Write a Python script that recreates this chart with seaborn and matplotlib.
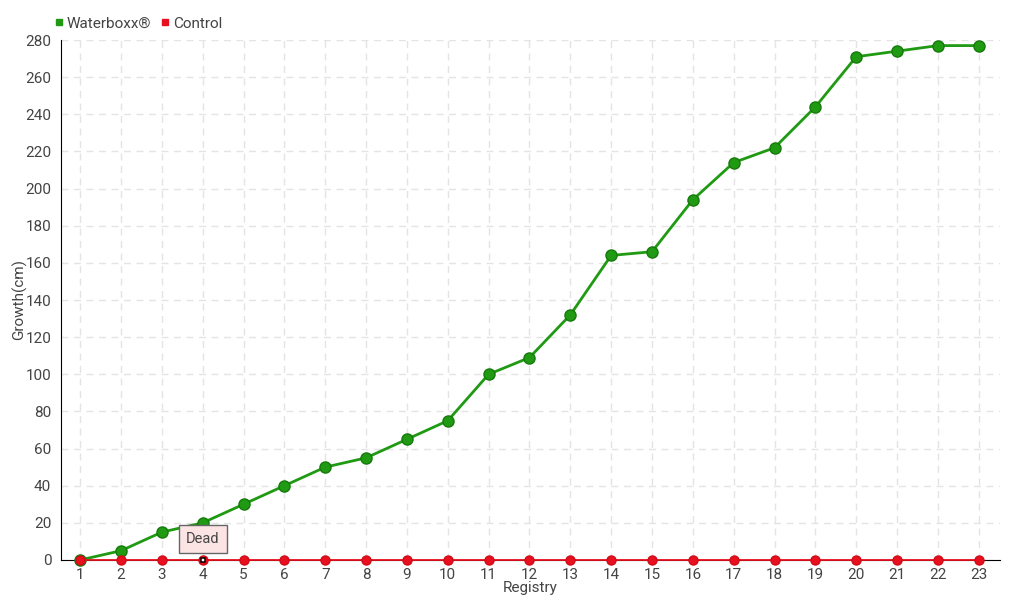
import pandas as pd
import seaborn as sns
import matplotlib.pyplot as plt
from matplotlib.lines import Line2D

# Data
registry = list(range(1, 24))
waterboxx = [0, 5, 15, 20, 30, 40, 50, 55, 65, 75, 100, 109, 132, 164, 166,
             194, 214, 222, 244, 271, 274, 277, 277]
control = [0] * 23
dead_at = 4

sns.set_style('white')
plt.rcParams['font.family'] = ['Roboto', 'DejaVu Sans']

df = pd.DataFrame({'Registry': registry, 'Waterboxx®': waterboxx, 'Control': control})
long = df.melt(id_vars='Registry', var_name='series', value_name='Growth')

fig = plt.figure(figsize=(10.2, 6), dpi=100)
ax = fig.add_axes([0.0598, 0.0667, 0.9206, 0.8666])

green = '#1f9a12'
red = '#e8101e'
sns.lineplot(data=long, x='Registry', y='Growth', hue='series',
             palette={'Waterboxx®': green, 'Control': red},
             marker='o', markersize=8, linewidth=2, markeredgewidth=1,
             ax=ax, legend=False, zorder=3, clip_on=False)
for ln in ax.lines:
    c = ln.get_color()
    ln.set_markeredgecolor('#167a0c' if c == green else '#d00c18')
ax.lines[1].set_linewidth(1.3)
ax.lines[1].set_markersize(6.5)
ax.lines[1].set_zorder(4)

# dead marker
ax.plot([dead_at], [0], marker='s', markersize=3.5, markerfacecolor='white',
        markeredgecolor='black', markeredgewidth=1.1, zorder=5, clip_on=False)
ax.annotate('Dead', xy=(dead_at, 0), xytext=(dead_at, 11.3), ha='center', va='center',
            fontsize=10.5, color='#444444',
            bbox=dict(boxstyle='square,pad=0.5', fc='#fde4e4', ec='#666666', lw=1),
            zorder=6)

ax.set_xlim(0.53, 23.52)
ax.set_ylim(0, 280)
ax.set_xticks(registry)
ax.set_yticks(range(0, 281, 20))
ax.grid(True, color='#e4e4e4', linestyle=(0, (5, 4)), linewidth=1)
ax.set_axisbelow(True)
for s in ['top', 'right']:
    ax.spines[s].set_visible(False)
ax.spines['left'].set_color('black')
ax.spines['bottom'].set_color('black')
ax.tick_params(axis='both', labelcolor='#444444', labelsize=11, length=5, width=1,
               direction='out', color='black')
ax.tick_params(axis='x', pad=1)
ax.tick_params(axis='y', pad=2)
ax.set_xlabel('Registry', fontsize=11, color='#444444')
ax.set_ylabel('Growth(cm)', fontsize=11, color='#444444')
ax.xaxis.set_label_coords(0.5, -0.040)
ax.yaxis.set_label_coords(-0.036, 0.5)

handles = [Line2D([], [], marker='s', color='none', markerfacecolor=green, markeredgecolor=green, markersize=5),
           Line2D([], [], marker='s', color='none', markerfacecolor=red, markeredgecolor=red, markersize=5)]
fig.legend(handles, ['Waterboxx®', 'Control'], loc='upper left', bbox_to_anchor=(0.04, 0.995),
           ncol=2, frameon=False, handlelength=0.6, handletextpad=0.2, columnspacing=0.6,
           fontsize=11, labelcolor='#444444')

plt.savefig('out.png', dpi=100)
